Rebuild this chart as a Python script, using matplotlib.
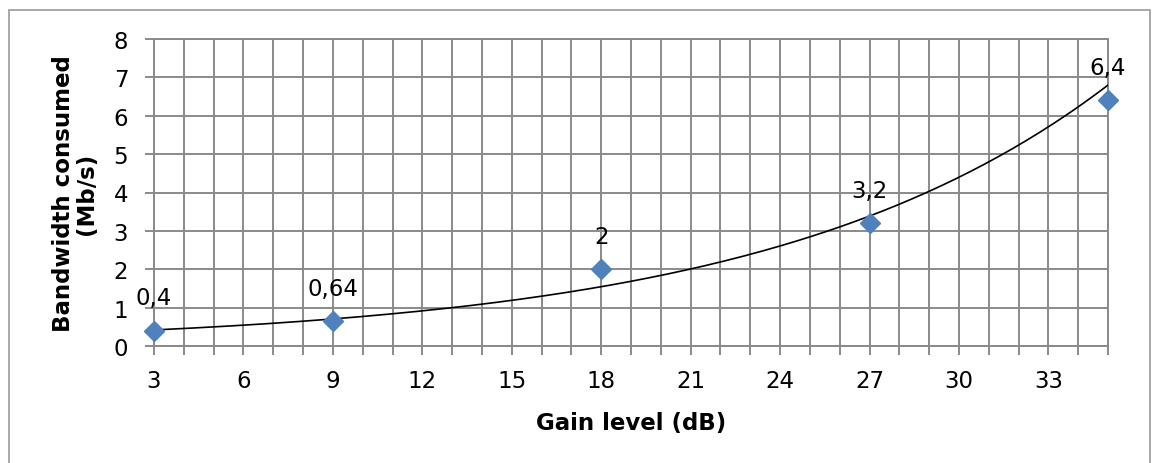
import matplotlib.pyplot as plt
from matplotlib.patches import Rectangle
import numpy as np

# Data
gain_db = [3, 9, 18, 27, 35]
bandwidth = [0.4, 0.64, 2, 3.2, 6.4]
point_labels = ['0,4', '0,64', '2', '3,2', '6,4']

x_ticks = list(range(3, 36))
y_ticks = list(range(0, 9))

grid_color = '#8a8a8a'
marker_color = '#4F81BD'
fs = 16.5

fig = plt.figure(figsize=(11.53, 4.64), dpi=100)
ax = fig.add_axes([154 / 1153, 1 - 347 / 464, (1108 - 154) / 1153, (347 - 40) / 464])

# exponential trendline (least squares on log y, like Excel)
b, ln_a = np.polyfit(gain_db, np.log(bandwidth), 1)
xs = np.linspace(min(gain_db), max(gain_db), 200)
ax.plot(xs, np.exp(ln_a) * np.exp(b * xs), color='black', lw=1.2, zorder=3)

ax.plot(gain_db, bandwidth, linestyle='none', marker='D', markersize=10,
        color=marker_color, zorder=4, clip_on=False)

for gx, by, lab in zip(gain_db, bandwidth, point_labels):
    ax.annotate(lab, (gx, by), xytext=(0, 19), textcoords='offset points',
                ha='center', va='baseline', fontsize=fs, zorder=5)

ax.set_xlim(3, 35)
ax.set_ylim(0, 8)
ax.set_xticks(x_ticks)
ax.set_xticklabels([str(t) if (t % 3 == 0) else '' for t in x_ticks])
ax.set_yticks(y_ticks)
ax.grid(True, color=grid_color, lw=1.4)
ax.set_axisbelow(True)
for s in ax.spines.values():
    s.set_color(grid_color)
    s.set_linewidth(1.4)
ax.tick_params(axis='both', color=grid_color, width=1.4, length=6.5,
               labelsize=fs, colors='black')
ax.tick_params(axis='x', pad=10)
ax.tick_params(axis='y', pad=12)
for t in ax.xaxis.get_ticklines() + ax.yaxis.get_ticklines():
    t.set_color(grid_color)

ax.set_xlabel('Gain level (dB)', fontsize=fs, fontweight='bold', labelpad=14)
ax.set_ylabel('Bandwidth consumed\n(Mb/s)', fontsize=fs, fontweight='bold',
              labelpad=11, linespacing=1.05)

# outer chart border (bottom edge falls outside the image)
fig.patches.append(Rectangle((9 / 1153, -0.05), (1150 - 9) / 1153, 1 - 11 / 464 + 0.05,
                             transform=fig.transFigure, fill=False,
                             edgecolor='#9a9a9a', lw=1.2))

plt.savefig('out.png', dpi=100)
